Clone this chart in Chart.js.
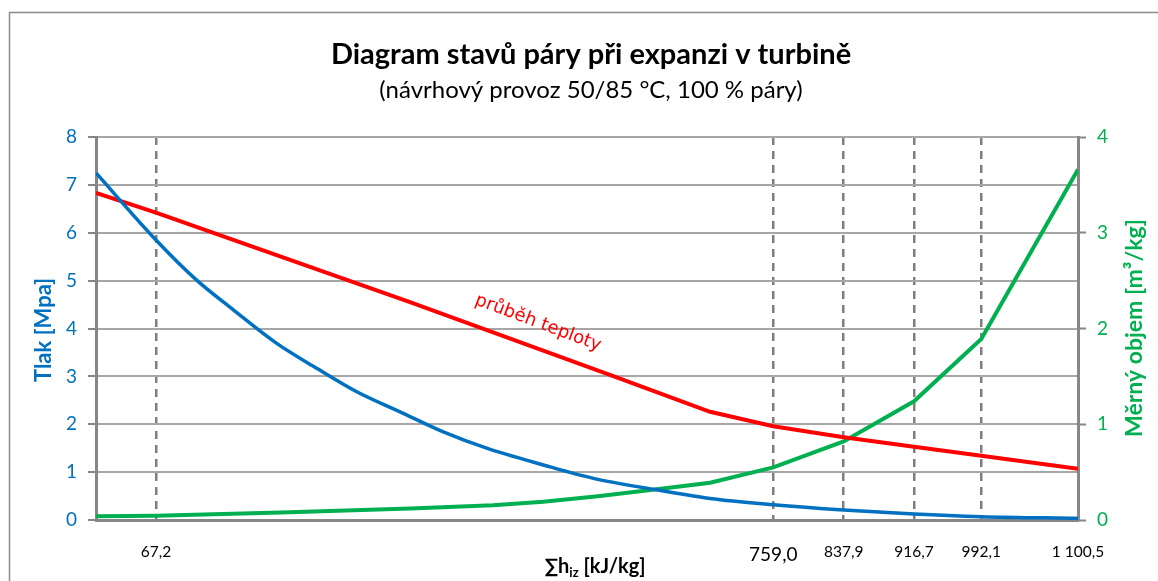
<!DOCTYPE html>
<html>
<head>
<meta charset="utf-8">
<script src="https://cdn.jsdelivr.net/npm/chart.js@4.4.0/dist/chart.umd.min.js"></script>
<style>
  body { margin: 0; background: #fff; }
  #wrap { width: 1158px; height: 581px; position: relative; }
</style>
</head>
<body>
<div id="wrap"><canvas id="myChart"></canvas></div>
<script>
// data
const hTlak = [0, 67.2, 112.8, 153.9, 202.5, 247.3, 292.2, 340.7, 389.2, 437.8, 501.3, 557.4, 628.4, 688.2, 759.0, 837.9, 916.7, 992.1, 1100.5];
const tlak = [7.25, 5.85, 5.01, 4.39, 3.69, 3.17, 2.68, 2.26, 1.84, 1.50, 1.15, 0.87, 0.63, 0.45, 0.32, 0.21, 0.125, 0.07, 0.035];

const hTeplota = [0, 67.2, 351.9, 575.9, 688.2, 759.0, 837.9, 916.7, 992.1, 1100.5];
const teplota = [6.83, 6.42, 4.55, 3.03, 2.26, 1.96, 1.73, 1.53, 1.34, 1.07];

const hObjem = [0, 67.2, 217, 351.9, 445, 501.3, 565, 628.4, 688.2, 759.0, 837.9, 916.7, 992.1, 1100.5];
const objem = [0.04, 0.045, 0.08, 0.12, 0.155, 0.19, 0.25, 0.32, 0.39, 0.55, 0.82, 1.24, 1.89, 3.66];

const xTicks = [67.2, 759.0, 837.9, 916.7, 992.1, 1100.5];
const leftTicks = [0, 1, 2, 3, 4, 5, 6, 7, 8];
const rightTicks = [0, 1, 2, 3, 4];

const pts = (xs, ys) => xs.map((x, i) => ({x: x, y: ys[i]}));

// formatting like "1 100,5"
function fmtX(v) {
    let s = v.toFixed(1).replace('.', ',');
    if (v >= 1000) s = s.slice(0, -5) + ' ' + s.slice(-5);
    return s;
}

// titles, border, label on the red line
const textPlugin = {
    id: 'texty',
    beforeDraw(chart) {
        const c = chart.ctx;
        c.save();
        c.fillStyle = '#fff';
        c.fillRect(0, 0, chart.width, chart.height);
        c.strokeStyle = '#8c8c8c';
        c.lineWidth = 1.5;
        c.strokeRect(9.5, 12.5, 1200, 700);
        c.restore();
    },
    afterDraw(chart) {
        const c = chart.ctx;
        c.save();
        c.textAlign = 'center';
        c.textBaseline = 'alphabetic';
        c.fillStyle = '#000';
        c.font = 'bold 29px Lato';
        c.fillText('Diagram stavů páry při expanzi v turbině', 591, 64);
        c.font = '24px Lato';
        c.fillText('(návrhový provoz 50/85 °C, 100 % páry)', 591, 98);

        // osa x titulek s indexem
        c.font = 'bold 20px Lato';
        const a = '∑h', sub = 'iz', b = ' [kJ/kg]';
        const wa = c.measureText(a).width, wb = c.measureText(b).width;
        c.font = 'bold 13px Lato';
        const ws = c.measureText(sub).width;
        let x0 = 595 - (wa + ws + wb) / 2;
        c.textAlign = 'left';
        c.font = 'bold 20px Lato';
        c.fillText(a, x0, 573);
        c.font = 'bold 13px Lato';
        c.fillText(sub, x0 + wa, 577);
        c.font = 'bold 20px Lato';
        c.fillText(b, x0 + wa + ws, 573);

        // osy y titulky
        c.textAlign = 'center';
        c.save();
        c.translate(51, 330);
        c.rotate(-Math.PI / 2);
        c.fillStyle = '#0070C0';
        c.font = 'bold 22px Lato';
        c.fillText('Tlak [Mpa]', 0, 0);
        c.restore();

        c.save();
        c.translate(1142, 328);
        c.rotate(-Math.PI / 2);
        c.fillStyle = '#00B050';
        c.font = 'bold 23px Lato';
        c.fillText('Měrný objem [m³/kg]', 0, 0);
        c.restore();

        // popisek cervene krivky
        c.save();
        c.translate(538, 323);
        c.rotate(0.36);
        c.fillStyle = '#FF0000';
        c.font = '18px "DejaVu Sans"';
        c.textBaseline = 'middle';
        c.fillText('průběh teploty', 0, 0);
        c.restore();
        c.restore();
    }
};

const ctx = document.getElementById('myChart').getContext('2d');
const myChart = new Chart(ctx, {
    type: 'scatter',
    data: {
        datasets: [{
            label: 'Tlak',
            data: pts(hTlak, tlak),
            showLine: true,
            borderColor: '#0070C0',
            borderWidth: 3.5,
            pointRadius: 0,
            cubicInterpolationMode: 'monotone',
            yAxisID: 'y'
        }, {
            label: 'Teplota',
            data: pts(hTeplota, teplota),
            showLine: true,
            borderColor: '#FF0000',
            borderWidth: 4,
            pointRadius: 0,
            yAxisID: 'y'
        }, {
            label: 'Měrný objem',
            data: pts(hObjem, objem),
            showLine: true,
            borderColor: '#00B050',
            borderWidth: 4,
            pointRadius: 0,
            yAxisID: 'y1'
        }]
    },
    options: {
        responsive: true,
        maintainAspectRatio: false,
        animation: false,
        layout: { padding: { top: 137, left: 0, right: 0, bottom: 0 } },
        plugins: {
            legend: { display: false },
            tooltip: { enabled: false }
        },
        scales: {
            x: {
                type: 'linear',
                min: 0,
                max: 1100.5,
                afterBuildTicks: s => { s.ticks = xTicks.map(v => ({value: v})); },
                afterFit: s => { s.height = 61; },
                grid: {
                    color: ctx => ctx.tick && ctx.tick.value === 1100.5 ? 'rgba(0,0,0,0)' : '#7f7f7f',
                    lineWidth: 2.5,
                    drawTicks: false
                },
                border: { color: '#878787', width: 3, dash: [8, 6] },
                ticks: {
                    color: '#000',
                    padding: 23,
                    maxRotation: 0,
                    autoSkip: false,
                    font: ctx => ({ family: 'Lato', size: ctx.tick && ctx.tick.value === 759 ? 19 : 15.5 }),
                    callback: v => fmtX(v)
                }
            },
            y: {
                position: 'left',
                min: 0,
                max: 8,
                afterBuildTicks: s => { s.ticks = leftTicks.map(v => ({value: v})); },
                afterFit: s => { s.width = 96; },
                grid: {
                    color: '#a6a6a6',
                    lineWidth: 2,
                    tickLength: 8,
                    tickColor: '#878787',
                    tickWidth: 2
                },
                border: { color: '#878787', width: 3 },
                ticks: {
                    color: '#0070C0',
                    padding: 11,
                    font: { family: 'Lato', size: 19 }
                }
            },
            y1: {
                position: 'right',
                min: 0,
                max: 4,
                afterBuildTicks: s => { s.ticks = rightTicks.map(v => ({value: v})); },
                afterFit: s => { s.width = 80; },
                grid: {
                    drawOnChartArea: false,
                    tickLength: 8,
                    tickColor: '#878787',
                    tickWidth: 2
                },
                border: { color: '#878787', width: 3 },
                ticks: {
                    color: '#00B050',
                    padding: 11,
                    font: { family: 'Lato', size: 19 }
                }
            }
        }
    },
    plugins: [textPlugin]
});
</script>
</body>
</html>
